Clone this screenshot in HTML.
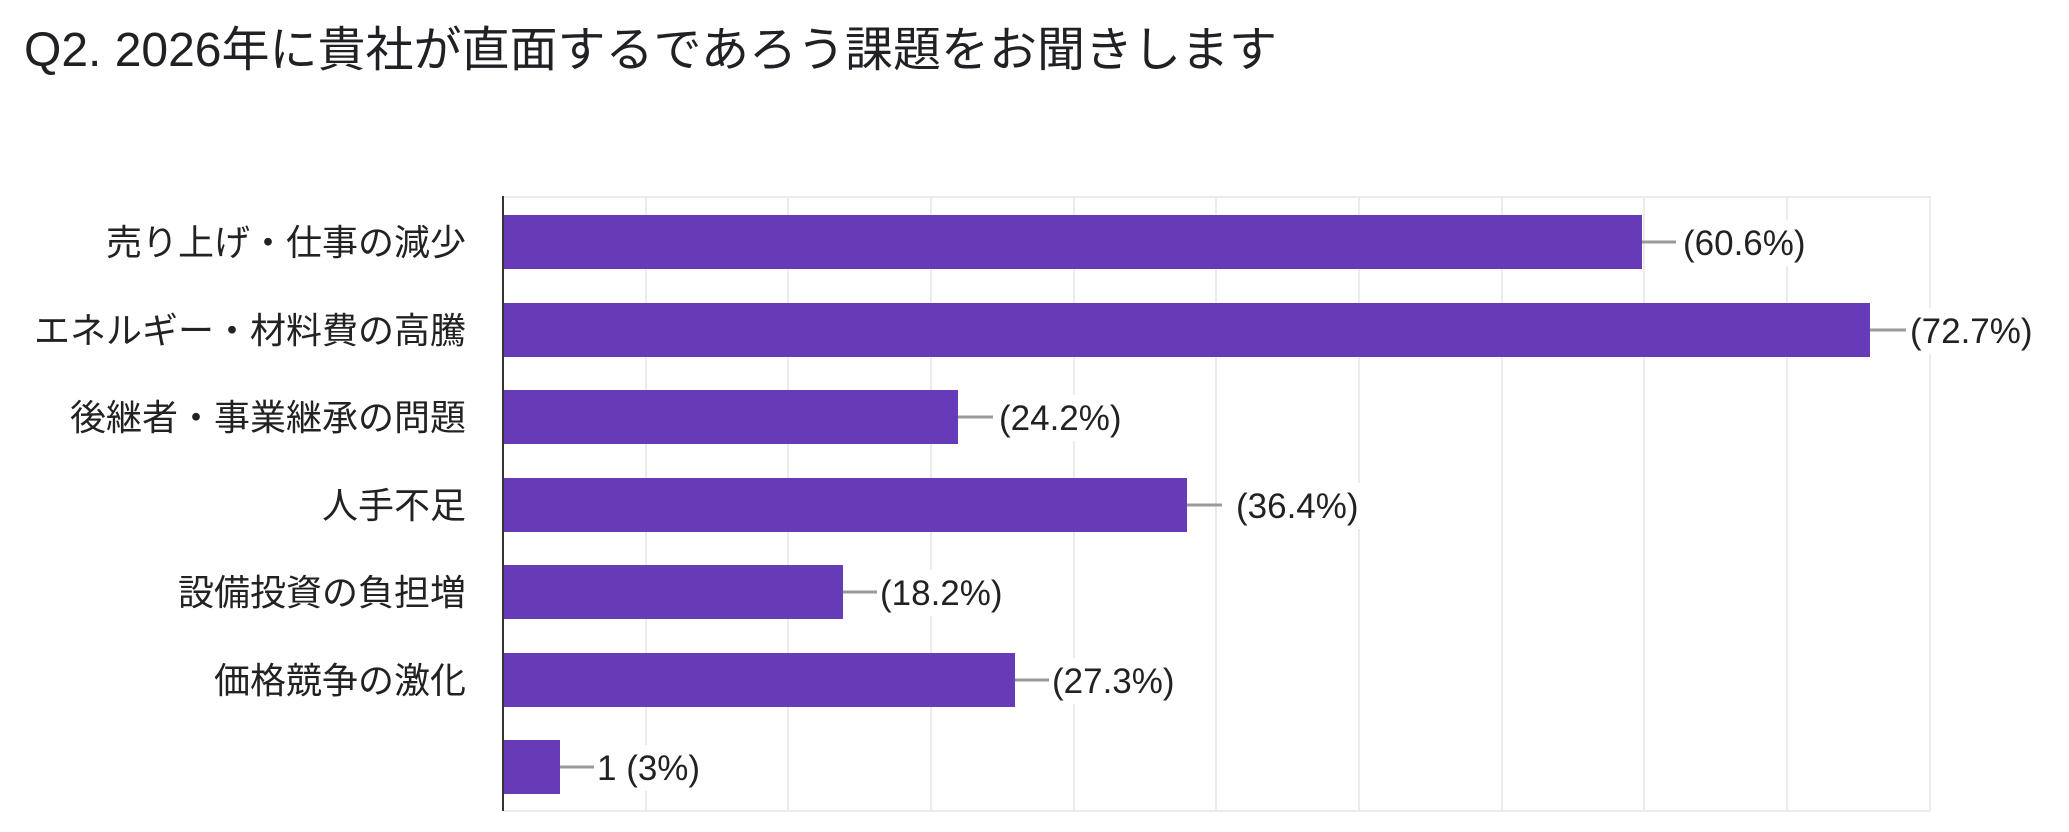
<!DOCTYPE html>
<html><head><meta charset="utf-8"><style>
body{margin:0;background:#fff;}
svg text{font-family:"Liberation Sans","Noto Sans CJK JP",sans-serif;}
</style></head><body>
<svg width="2069" height="827" xmlns="http://www.w3.org/2000/svg">
<rect width="2069" height="827" fill="#fff"/>
<text x="24" y="66" font-size="48" fill="#202124">Q2. 2026年に貴社が直面するであろう課題をお聞きします</text>
<g stroke="#ebebeb" stroke-width="2">
<line x1="646" y1="196" x2="646" y2="811"/><line x1="788" y1="196" x2="788" y2="811"/>
<line x1="931" y1="196" x2="931" y2="811"/><line x1="1074" y1="196" x2="1074" y2="811"/>
<line x1="1216" y1="196" x2="1216" y2="811"/><line x1="1359" y1="196" x2="1359" y2="811"/>
<line x1="1502" y1="196" x2="1502" y2="811"/><line x1="1644" y1="196" x2="1644" y2="811"/>
<line x1="1787" y1="196" x2="1787" y2="811"/><line x1="1930" y1="196" x2="1930" y2="811"/>
<line x1="503" y1="197" x2="1930" y2="197"/><line x1="503" y1="811" x2="1930" y2="811"/>
</g>
<g fill="#673ab7">
<rect x="504" y="215" width="1138" height="54"/>
<rect x="504" y="303" width="1366" height="54"/>
<rect x="504" y="390" width="454" height="54"/>
<rect x="504" y="478" width="683" height="54"/>
<rect x="504" y="565" width="339" height="54"/>
<rect x="504" y="653" width="511" height="54"/>
<rect x="504" y="740" width="56" height="54"/>
</g>
<line x1="503" y1="196" x2="503" y2="811" stroke="#333" stroke-width="2"/>
<g stroke="#999" stroke-width="3">
<line x1="1642" y1="242" x2="1676" y2="242"/><line x1="1870" y1="330" x2="1906" y2="330"/>
<line x1="958" y1="417" x2="993" y2="417"/><line x1="1187" y1="505" x2="1222" y2="505"/>
<line x1="843" y1="592" x2="877" y2="592"/><line x1="1015" y1="680" x2="1049" y2="680"/>
<line x1="560" y1="767" x2="594" y2="767"/>
</g>
<g fill="#fff">
<rect x="1680" y="220" width="160" height="46"/><rect x="1908" y="308" width="160" height="46"/>
<rect x="996" y="395" width="160" height="46"/><rect x="1228" y="483" width="160" height="46"/>
<rect x="878" y="570" width="160" height="46"/><rect x="1050" y="658" width="160" height="46"/>
<rect x="595" y="745" width="120" height="46"/>
</g>
<g font-size="35" fill="#222">
<text x="1683" y="255">(60.6%)</text>
<text x="1910" y="343">(72.7%)</text>
<text x="999" y="430">(24.2%)</text>
<text x="1236" y="518">(36.4%)</text>
<text x="880" y="605">(18.2%)</text>
<text x="1052" y="693">(27.3%)</text>
<text x="597" y="780">1 (3%)</text>
</g>
<g font-size="36" fill="#222" text-anchor="end">
<text x="466" y="255">売り上げ・仕事の減少</text>
<text x="466" y="343">エネルギー・材料費の高騰</text>
<text x="466" y="430">後継者・事業継承の問題</text>
<text x="466" y="518">人手不足</text>
<text x="466" y="605">設備投資の負担増</text>
<text x="466" y="693">価格競争の激化</text>
</g>
</svg>
</body></html>
